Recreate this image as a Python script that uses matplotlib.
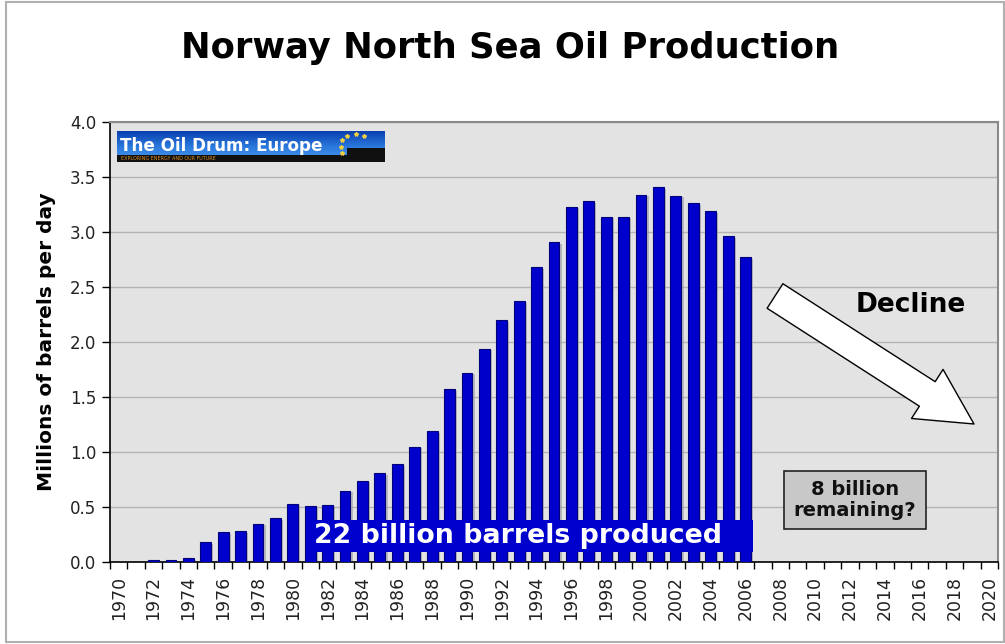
import numpy as np
import matplotlib
matplotlib.use("Agg")
import matplotlib.pyplot as plt
from matplotlib.patches import Rectangle, FancyArrowPatch
from matplotlib.colors import LinearSegmentedColormap

# ---- data ----
years = list(range(1970, 2021))
production = [0.0, 0.0, 0.02, 0.02, 0.035, 0.18, 0.27, 0.28, 0.35, 0.40,
              0.53, 0.51, 0.52, 0.65, 0.74, 0.81, 0.89, 1.05, 1.19, 1.57,
              1.72, 1.94, 2.20, 2.37, 2.68, 2.91, 3.23, 3.28, 3.14, 3.14,
              3.34, 3.41, 3.33, 3.26, 3.19, 2.96, 2.77]
year_labels = [str(y) if y % 2 == 0 else "" for y in years]
y_ticks = [0.0, 0.5, 1.0, 1.5, 2.0, 2.5, 3.0, 3.5, 4.0]

title = "Norway North Sea Oil Production"
ylabel = "Millions of barrels per day"
produced_text = "22 billion barrels produced"
remaining_text = "8 billion\nremaining?"
decline_text = "Decline"
logo_text = "The Oil Drum: Europe"

W, H = 1005, 644
fig = plt.figure(figsize=(W / 100, H / 100), dpi=100)
fig.patch.set_facecolor("white")

def fx(px):
    return px / W

def fy(py):
    return 1 - py / H

# outer frame
fig.patches.append(Rectangle((fx(6), fy(642)), fx(1004) - fx(6), fy(2) - fy(642),
                             transform=fig.transFigure, fill=False,
                             edgecolor="#b0b0b0", linewidth=1.5))

ax = fig.add_axes([fx(110), fy(562), fx(998) - fx(110), fy(122) - fy(562)])
ax.set_facecolor("#e3e3e3")

x = np.arange(len(years))
xp = np.arange(len(production))
# shadow
ax.bar(xp + 0.13, np.array(production) - 0.015, width=0.62, color="#9a9aa8",
       alpha=0.6, zorder=2, linewidth=0)
ax.bar(xp, production, width=0.62, color="#0000cc", edgecolor="#00007a",
       linewidth=0.8, zorder=3)

ax.set_xlim(-0.5, len(years) - 0.5)
ax.set_ylim(0, 4.0)
ax.set_yticks(y_ticks)
ax.set_yticklabels([f"{v:.1f}" for v in y_ticks], fontsize=12, color="#222222")
ax.yaxis.grid(True, color="#b4b4b4", linewidth=1.0, zorder=0)
ax.set_axisbelow(True)

ax.set_xticks(x)
ax.set_xticklabels(year_labels, rotation=90, fontsize=12.5, color="#222222")
ax.tick_params(axis="x", which="major", length=0, pad=10)
ax.set_xticks(np.arange(-0.5, len(years)), minor=True)
ax.tick_params(axis="x", which="minor", length=5, width=1, direction="out", color="black")
ax.tick_params(axis="y", length=6, width=1, direction="out", pad=4)

for s in ["left", "bottom"]:
    ax.spines[s].set_color("black")
    ax.spines[s].set_linewidth(1.2)
for s in ["top", "right"]:
    ax.spines[s].set_color("#8a8a8a")
    ax.spines[s].set_linewidth(1.5)

ax.set_ylabel(ylabel, fontsize=14.5, fontweight="bold", labelpad=10)

fig.text(fx(510), fy(48), title, ha="center", va="center", fontsize=25.5,
         fontweight="bold", color="black")

# 22 billion box
ax.add_patch(Rectangle((10.83, 0.09), 36.42 - 10.83, 0.38 - 0.09,
                       facecolor="#0000cc", edgecolor="none", zorder=4))
ax.text((10.83 + 36.42) / 2 - 0.7, 0.24, produced_text, ha="center", va="center",
        fontsize=19.3, fontweight="bold", color="white", zorder=5)

# remaining box
fig.text(fx(855), fy(500), remaining_text, ha="center", va="center", fontsize=14,
         fontweight="bold", color="#111111", linespacing=1.15,
         bbox=dict(boxstyle="square,pad=0.48", facecolor="#c8c8c8",
                   edgecolor="#222222", linewidth=1.2))

# decline arrow
def px_to_data(px, py):
    return ((px - 110) / ((998 - 110) / len(years)) - 0.5, (562 - py) / 110.0)

arr = FancyArrowPatch(px_to_data(775, 296), px_to_data(974, 424),
                      arrowstyle="simple,head_length=4.0,head_width=4.2,tail_width=2.1",
                      mutation_scale=10, facecolor="white", edgecolor="black",
                      linewidth=1.0, zorder=6, shrinkA=0, shrinkB=0)
ax.add_patch(arr)
fig.text(fx(911), fy(305), decline_text, ha="center", va="center", fontsize=19,
         fontweight="bold", color="black")

# logo
lax = fig.add_axes([fx(117), fy(162), fx(385) - fx(117), fy(131) - fy(162)])
grad = np.linspace(0, 1, 50).reshape(-1, 1)
cmap = LinearSegmentedColormap.from_list("logo", ["#0a3fb0", "#2a78dc", "#4a9af0"])
lax.imshow(grad, aspect="auto", cmap=cmap, extent=[0, 1, 0, 1], origin="upper")
lax.add_patch(Rectangle((0, 0), 1, 0.24, facecolor="#101010", edgecolor="none"))
lax.add_patch(Rectangle((0.86, 0), 0.14, 0.45, facecolor="#101010", edgecolor="none"))
lax.text(0.012, 0.52, logo_text, ha="left", va="center", fontsize=12.1,
         fontweight="bold", color="white", transform=lax.transAxes)
lax.text(0.015, 0.11, "EXPLORING ENERGY AND OUR FUTURE", ha="left", va="center",
         fontsize=3.5, color="#e09020", transform=lax.transAxes)
for sx, sy in [(0.84, 0.7), (0.86, 0.85), (0.89, 0.9), (0.92, 0.85), (0.835, 0.5), (0.84, 0.3)]:
    lax.plot(sx, sy, marker="*", color="#f0d040", markersize=3)
lax.set_xlim(0, 1)
lax.set_ylim(0, 1)
lax.axis("off")

fig.savefig("out.png", dpi=100)
